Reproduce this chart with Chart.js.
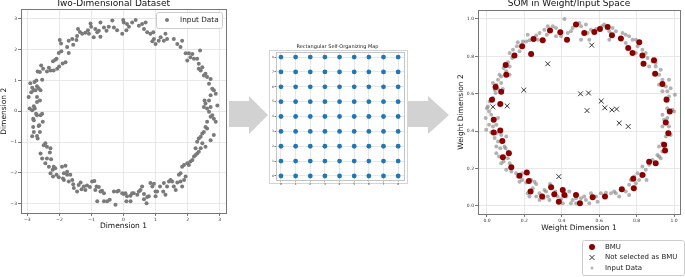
<!DOCTYPE html>
<html>
<head>
<meta charset="utf-8">
<script src="https://cdn.jsdelivr.net/npm/chart.js@4.4.1/dist/chart.umd.min.js"></script>
<style>
  body { margin: 0; width: 685px; height: 277px; overflow: hidden; background: #fff; position: relative; }
  canvas, svg, #mapBox { position: absolute; }
  #c1 { left: 0; top: -2px; }
  #c2 { left: 269px; top: 40px; }
  #c3 { left: 457px; top: -2px; }
  #mapBox { left: 269px; top: 50px; width: 137px; height: 132px; border: 1px solid #d4d4d4; background: #fff; }
</style>
</head>
<body>
<svg width="685" height="277">
  <polygon points="229,101 249,101 249,96 268,115 249,134 249,127 229,127" fill="#d2d2d2"/>
  <polygon points="408,101 428,101 428,96 449,115 428,134 428,127 408,127" fill="#d2d2d2"/>
</svg>
<div id="mapBox"></div>
<canvas id="c1" width="230" height="237"></canvas>
<canvas id="c2" width="139" height="146"></canvas>
<canvas id="c3" width="228" height="279"></canvas>
<script>
// left panel: raw 2D samples
const inputPoints = [
  [-1.03,2.85],[-1.01,2.74],[-1.11,2.63],[-1.19,2.55],[-1.29,2.51],[-1.42,2.67],[-1.36,2.57],[-1.45,2.44],[-1.47,2.31],[-1.60,2.34],
  [-1.57,2.16],[-1.71,2.29],[-1.76,2.08],[-1.99,2.31],[-1.95,2.20],[-2.02,1.89],[-1.94,1.95],[-1.71,1.89],[-1.81,1.59],[-1.90,1.55],
  [-2.09,1.70],[-2.20,1.62],[-2.13,1.67],[-2.01,1.45],[-2.07,1.38],[-2.18,1.32],[-2.28,1.32],[-2.39,1.29],[-2.33,1.41],[-2.57,1.48],
  [-2.51,1.38],[-2.61,1.27],[-2.68,1.29],[-2.54,1.02],[-2.72,1.00],[-2.78,0.95],[-2.85,0.76],[-2.65,0.75],[-2.70,0.81],[-2.59,0.68],
  [-2.80,0.68],[-2.88,0.62],[-2.96,0.46],[-2.91,0.91],[-2.75,0.68],[-2.70,0.46],[-2.70,0.30],[-2.61,0.35],[-2.80,0.16],[-2.85,0.03],
  [-2.93,0.09],[-2.77,0.09],[-2.82,-0.24],[-2.80,-0.29],[-2.73,-0.08],[-2.70,-0.13],[-2.54,-0.08],[-2.59,-0.13],[-2.52,-0.34],[-2.63,-0.45],
  [-2.82,-0.51],[-2.80,-0.67],[-2.65,-0.48],[-2.61,-0.67],[-2.85,-0.81],[-2.70,-0.80],[-2.68,-0.88],[-2.44,-1.04],[-2.49,-1.10],[-2.39,-1.15],
  [-2.28,-1.20],[-2.59,-1.37],[-2.30,-1.34],[-2.54,-1.53],[-2.39,-1.53],[-2.26,-1.56],[-2.44,-1.69],[-2.33,-1.80],[-2.13,-1.85],[-2.18,-1.80],
  [-2.09,-2.06],[-2.21,-1.90],[-2.28,-2.01],[-2.20,-2.12],[-2.02,-2.14],[-1.86,-2.01],[-1.92,-1.80],[-1.81,-1.77],[-1.76,-1.96],[-1.86,-2.23],
  [-1.89,-2.18],[-1.76,-2.06],[-1.66,-2.06],[-1.60,-2.23],[-1.71,-2.28],[-1.57,-2.37],[-1.55,-2.49],[-1.45,-2.60],[-1.40,-2.39],[-1.34,-2.31],
  [-1.31,-2.53],[-1.24,-2.44],[-1.14,-2.41],[-1.19,-2.55],[-1.05,-2.46],[-0.98,-2.28],[-0.91,-2.26],[-0.84,-2.44],[-0.88,-2.55],[-0.77,-2.46],
  [-0.72,-2.60],[-0.61,-2.66],[-0.67,-2.58],[-0.82,-2.92],[-0.61,-2.92],[-0.51,-2.92],[-0.43,-2.87],[-0.30,-2.60],[-0.25,-3.03],[-0.20,-2.60],
  [-0.15,-2.58],[-0.04,-2.66],[0.01,-2.68],[0.06,-2.66],[0.11,-2.76],[0.22,-2.74],[0.09,-2.92],[0.22,-2.92],[0.27,-2.66],[0.32,-2.66],
  [0.43,-2.71],[0.48,-2.60],[0.53,-2.55],[0.58,-2.44],[0.64,-2.68],[0.74,-2.78],[0.64,-2.85],[0.72,-2.98],[0.79,-2.76],[0.84,-2.33],
  [0.90,-2.44],[0.95,-2.35],[1.00,-2.60],[1.00,-2.76],[1.05,-2.60],[1.14,-2.44],[1.26,-2.33],[1.24,-2.60],[1.31,-2.71],[1.36,-2.44],
  [1.42,-2.28],[1.47,-2.23],[1.52,-2.28],[1.57,-2.44],[1.63,-2.55],[1.68,-2.31],[1.73,-2.06],[1.78,-2.28],[1.83,-2.44],[1.89,-2.23],
  [1.94,-2.12],[1.78,-2.01],[1.83,-1.80],[1.89,-1.74],[1.99,-1.69],[2.04,-1.74],[2.09,-1.63],[2.15,-1.58],[2.20,-1.47],[2.25,-1.42],
  [2.30,-1.37],[2.35,-1.31],[2.41,-1.20],[2.25,-1.20],[2.30,-0.99],[2.35,-0.88],[2.41,-0.83],[2.46,-0.72],[2.51,-0.67],[2.46,-1.04],
  [2.56,-1.15],[2.72,-0.94],[2.82,-0.77],[2.61,-0.56],[2.56,-0.51],[2.61,-0.34],[2.72,-0.18],[2.77,-0.13],[2.82,-0.24],[2.88,-0.34],
  [2.67,-0.02],[2.61,0.09],[2.56,0.25],[2.53,0.35],[2.51,0.14],[2.67,0.35],[2.72,0.14],[2.93,0.19],[2.88,0.57],[2.82,0.68],
  [2.72,0.52],[2.77,0.73],[2.67,0.89],[2.72,1.05],[2.61,1.11],[2.56,1.22],[2.51,1.16],[2.46,1.43],[2.41,1.32],[2.35,1.38],
  [2.35,1.54],[2.30,1.70],[2.20,1.70],[2.09,1.75],[1.99,1.65],[1.94,1.88],[2.04,1.88],[2.15,1.86],[2.39,1.97],[1.78,2.08],
  [1.83,2.29],[1.68,2.18],[1.57,2.34],[1.36,2.34],[1.31,2.51],[1.26,2.29],[1.16,2.40],[1.10,2.29],[1.00,2.18],[0.90,2.27],
  [0.95,2.34],[0.84,2.51],[0.93,2.56],[0.74,2.56],[0.64,2.67],[0.58,2.83],[0.69,2.88],[0.48,2.77],[0.38,2.96],[0.27,2.88],
  [0.17,2.74],[0.11,2.83],[0.01,2.88],[-0.01,2.96],[0.09,2.63],[-0.04,2.51],[-0.20,2.63],[-0.30,2.72],[-0.35,2.94],[-0.46,2.74],
  [-0.53,2.61],[-0.61,2.72],[-0.72,2.88],[-0.82,2.56],[-0.77,2.61],[-0.88,2.67],[-0.72,2.42],[-0.93,2.40],[-1.08,2.51]
];
const dimTicks = [-3, -2, -1, 0, 1, 2, 3];

// middle panel: 9x9 map lattice
const gridX = [0, 1, 2, 3, 4, 5, 6, 7, 8];
const gridY = [0, 1, 2, 3, 4, 5, 6, 7, 8];

// right panel: normalized inputs, BMUs and unused nodes
const somInput = [
  [0.414,1.000],[0.325,0.961],[0.352,0.961],[0.369,0.952],[0.307,0.943],[0.281,0.925],[0.218,0.916],[0.263,0.911],[0.245,0.893],[0.272,0.889],
  [0.227,0.886],[0.192,0.880],[0.165,0.875],[0.160,0.854],[0.139,0.836],[0.174,0.827],[0.121,0.818],[0.135,0.791],[0.112,0.768],[0.121,0.746],
  [0.089,0.738],[0.103,0.720],[0.121,0.702],[0.067,0.702],[0.059,0.675],[0.076,0.657],[0.050,0.648],[0.041,0.621],[0.059,0.625],[0.085,0.625],
  [0.046,0.604],[0.032,0.577],[0.014,0.559],[0.005,0.532],[0.011,0.505],[-0.007,0.470],[0.023,0.488],[0.011,0.434],[0.032,0.425],[0.050,0.434],
  [0.059,0.470],[0.023,0.393],[0.050,0.389],[0.076,0.380],[0.103,0.371],[0.041,0.363],[0.059,0.345],[0.094,0.318],[0.099,0.309],[0.071,0.309],
  [0.112,0.291],[0.050,0.282],[0.064,0.264],[0.089,0.238],[0.121,0.229],[0.112,0.255],[0.130,0.184],[0.156,0.175],[0.165,0.157],[0.188,0.175],
  [0.188,0.139],[0.210,0.125],[0.236,0.139],[0.254,0.130],[0.263,0.118],[0.245,0.095],[0.218,0.068],[0.227,0.050],[0.281,0.068],[0.307,0.086],
  [0.316,0.077],[0.325,0.050],[0.281,0.032],[0.302,0.041],[0.337,0.118],[0.366,0.077],[0.378,0.050],[0.396,0.036],[0.423,0.050],[0.440,0.077],
  [0.458,0.032],[0.476,0.014],[0.449,0.014],[0.503,0.041],[0.520,0.050],[0.529,0.032],[0.556,0.068],[0.583,0.050],[0.591,0.023],[0.609,0.068],
  [0.636,0.071],[0.663,0.068],[0.680,0.077],[0.707,0.050],[0.742,0.077],[0.760,0.113],[0.769,0.139],[0.787,0.157],[0.805,0.175],[0.813,0.139],
  [0.840,0.166],[0.853,0.139],[0.849,0.193],[0.867,0.220],[0.885,0.246],[0.911,0.273],[0.929,0.255],[0.938,0.291],[0.920,0.318],[0.938,0.336],
  [0.956,0.371],[0.964,0.393],[0.982,0.380],[0.938,0.425],[0.947,0.461],[0.964,0.470],[0.938,0.488],[0.964,0.523],[0.991,0.514],[1.000,0.505],
  [0.956,0.577],[0.973,0.586],[1.005,0.595],[0.938,0.613],[0.956,0.639],[0.973,0.675],[0.938,0.675],[0.920,0.702],[0.929,0.729],[0.902,0.746],
  [0.902,0.764],[0.885,0.773],[0.858,0.791],[0.849,0.818],[0.831,0.836],[0.805,0.854],[0.796,0.889],[0.778,0.889],[0.760,0.907],[0.742,0.916],
  [0.725,0.925],[0.689,0.934],[0.671,0.952],[0.654,0.934],[0.627,0.970],[0.615,0.961],[0.583,0.946],[0.556,0.943],[0.529,0.970],[0.503,0.961],
  [0.494,0.979],[0.458,0.952],[0.449,0.934],[0.432,0.925],[0.396,0.907],[0.369,0.907],[0.320,0.916],[0.538,0.925],[0.547,0.889],[0.503,0.889],
  [0.654,0.889],[0.742,0.871],[0.796,0.818],[0.867,0.746],[0.920,0.648],[0.964,0.613],[0.982,0.630],[0.973,0.425],[0.920,0.264],[0.831,0.211],
  [0.796,0.121],[0.760,0.059],[0.689,0.068],[0.547,0.014],[0.476,0.041],[0.405,0.014],[0.334,0.032],[0.263,0.050],[0.174,0.130],[0.103,0.193],
  [0.076,0.229],[0.050,0.318],[-0.004,0.407],[0.000,0.523],[0.032,0.657],[0.076,0.693],[0.139,0.800],[0.210,0.880]
];
const bmuPoints = [
  [0.476,0.970],[0.520,0.925],[0.574,0.930],[0.604,0.946],[0.645,0.957],[0.668,0.913],[0.716,0.895],[0.755,0.845],[0.814,0.875],[0.778,0.818],
  [0.831,0.804],[0.837,0.761],[0.893,0.779],[0.899,0.707],[0.938,0.652],[0.960,0.568],[0.977,0.505],[0.956,0.446],[0.970,0.389],[0.947,0.327],
  [0.952,0.296],[0.902,0.229],[0.867,0.237],[0.831,0.166],[0.782,0.145],[0.785,0.095],[0.721,0.089],[0.631,0.050],[0.565,0.046],[0.497,0.014],
  [0.476,0.059],[0.414,0.059],[0.405,0.086],[0.384,0.023],[0.360,0.063],[0.343,0.100],[0.295,0.050],[0.233,0.077],[0.224,0.134],[0.213,0.179],
  [0.174,0.161],[0.130,0.207],[0.117,0.282],[0.085,0.261],[0.082,0.348],[0.071,0.404],[0.036,0.393],[0.036,0.461],[0.071,0.545],[0.027,0.568],
  [0.076,0.611],[0.046,0.636],[0.103,0.702],[0.100,0.754],[0.147,0.804],[0.188,0.854],[0.236,0.813],[0.249,0.893],[0.298,0.886],[0.337,0.938],
  [0.392,0.929],[0.428,0.889]
];
const unusedNodes = [
  [0.560,0.860],[0.325,0.760],[0.197,0.620],[0.032,0.530],[0.108,0.535],[0.500,0.600],[0.543,0.604],[0.535,0.510],
  [0.611,0.561],[0.630,0.525],[0.668,0.514],[0.693,0.518],[0.707,0.443],[0.755,0.425],[0.384,0.157]
];
const weightTicks = [0, 0.2, 0.4, 0.6, 0.8, 1.0];

const toXY = arr => arr.map(([x, y]) => ({ x, y }));

Chart.defaults.font.family = '"DejaVu Sans", sans-serif';
Chart.defaults.color = '#222';

// box around the plot area, like matplotlib spines
const framePlugin = {
  id: 'frame',
  beforeDatasetsDraw(chart, args, opts) {
    const { ctx, chartArea: a } = chart;
    ctx.save();
    ctx.strokeStyle = opts.color;
    ctx.lineWidth = 1;
    const l = Math.round(a.left) + 0.5, t = Math.round(a.top) + 0.5;
    ctx.strokeRect(l, t, Math.round(a.right) - Math.round(a.left), Math.round(a.bottom) - Math.round(a.top));
    ctx.restore();
  }
};

// vertical legend drawn in a rounded box
const boxLegend = {
  id: 'boxLegend',
  afterDraw(chart, args, o) {
    const ctx = chart.ctx;
    ctx.save();
    ctx.fillStyle = 'rgba(255,255,255,0.85)';
    ctx.strokeStyle = '#cccccc';
    ctx.lineWidth = 1;
    ctx.beginPath();
    if (ctx.roundRect) ctx.roundRect(o.x + 0.5, o.y + 0.5, o.w, o.h, 2);
    else ctx.rect(o.x + 0.5, o.y + 0.5, o.w, o.h);
    ctx.fill();
    ctx.stroke();
    ctx.font = o.fontSize + 'px "DejaVu Sans"';
    ctx.textBaseline = 'middle';
    chart.data.datasets.forEach((ds, i) => {
      const cy = o.y + o.pad + i * o.row + o.row / 2;
      const mx = o.x + o.markX;
      const r = ds.legendRadius || ds.pointRadius;
      if (ds.pointStyle === 'crossRot') {
        const d = r * 0.72;
        ctx.strokeStyle = ds.borderColor;
        ctx.lineWidth = ds.borderWidth;
        ctx.beginPath();
        ctx.moveTo(mx - d, cy - d); ctx.lineTo(mx + d, cy + d);
        ctx.moveTo(mx - d, cy + d); ctx.lineTo(mx + d, cy - d);
        ctx.stroke();
      } else {
        ctx.fillStyle = ds.backgroundColor;
        ctx.beginPath();
        ctx.arc(mx, cy, r, 0, Math.PI * 2);
        ctx.fill();
      }
      ctx.fillStyle = '#222';
      ctx.fillText(ds.label, o.x + o.textX, cy);
    });
    ctx.restore();
  }
};

function axis(min, max, ticks, fmt, size, tickFont, title) {
  return {
    type: 'linear',
    min: min,
    max: max,
    afterBuildTicks: s => { s.ticks = ticks.map(v => ({ value: v })); },
    afterFit: s => { if (s.isHorizontal()) s.height = size; else s.width = size; },
    ticks: { callback: fmt, font: { size: tickFont.size }, padding: tickFont.pad, autoSkip: false, maxRotation: 0, color: '#333' },
    grid: { color: '#e2e2e2', lineWidth: 0.8, tickColor: '#555', tickLength: tickFont.len },
    border: { display: false },
    title: title
  };
}

const minusFmt = v => (v < 0 ? '\u2212' + Math.abs(v) : String(v));
const oneDec = v => v.toFixed(1);
const intFmt = v => String(v);

const baseOpts = {
  responsive: false,
  animation: false,
  events: []
};

// Two-Dimensional Dataset
new Chart(document.getElementById('c1'), {
  type: 'scatter',
  data: {
    datasets: [{
      label: 'Input Data',
      data: toXY(inputPoints),
      pointRadius: 2,
      backgroundColor: '#7a7a7a',
      borderWidth: 0
    }]
  },
  options: Object.assign({}, baseOpts, {
    layout: { padding: { left: 0, right: 4, top: 0, bottom: 0 } },
    plugins: {
      legend: { display: false },
      tooltip: { enabled: false },
      title: { display: true, text: 'Two-Dimensional Dataset', color: '#111', font: { size: 9, weight: 'normal' }, padding: { top: 0, bottom: 0.7 } },
      frame: { color: '#777' },
      boxLegend: { x: 156, y: 14, w: 66, h: 16, pad: 0, row: 16, markX: 11, textX: 24, fontSize: 7.3 }
    },
    scales: {
      x: axis(-3.2, 3.2, dimTicks, minusFmt, 22, { size: 4.5, pad: 1, len: 3 },
        { display: true, text: 'Dimension 1', color: '#111', font: { size: 7.5 }, padding: { top: 0, bottom: 4.5 } }),
      y: axis(-3.3, 3.3, dimTicks, minusFmt, 21, { size: 4.5, pad: 1, len: 3 },
        { display: true, text: 'Dimension 2', color: '#111', font: { size: 7.5 }, padding: { top: 0, bottom: 0 } })
    }
  }),
  plugins: [framePlugin, boxLegend]
});

// Rectangular Self-Organizing Map
new Chart(document.getElementById('c2'), {
  type: 'scatter',
  data: {
    datasets: [{
      label: 'Nodes',
      data: gridY.flatMap(y => gridX.map(x => ({ x, y }))),
      pointRadius: 2.4,
      backgroundColor: '#1f77b4',
      borderWidth: 0
    }]
  },
  options: Object.assign({}, baseOpts, {
    layout: { padding: { left: 0, right: 2, top: 0, bottom: 0 } },
    plugins: {
      legend: { display: false },
      tooltip: { enabled: false },
      title: { display: true, text: 'Rectangular Self-Organizing Map', color: '#222', font: { size: 5, weight: 'normal' }, padding: { top: 3.5, bottom: 2.5 } },
      frame: { color: '#c4c4c4' }
    },
    scales: {
      x: axis(-0.34, 8.4, gridX, intFmt, 6, { size: 3, pad: 0.5, len: 1.5 }, { display: false }),
      y: axis(-0.27, 8.34, gridY, intFmt, 7, { size: 3, pad: 0.5, len: 1.5 }, { display: false })
    }
  }),
  plugins: [framePlugin]
});

// SOM in Weight/Input Space
new Chart(document.getElementById('c3'), {
  type: 'scatter',
  data: {
    datasets: [
      {
        label: 'BMU',
        data: toXY(bmuPoints),
        pointRadius: 3,
        backgroundColor: '#8b0000',
        borderWidth: 0,
        order: 1
      },
      {
        label: 'Not selected as BMU',
        data: toXY(unusedNodes),
        pointStyle: 'crossRot',
        pointRadius: 3.4,
        borderColor: '#333333',
        borderWidth: 1,
        backgroundColor: '#333333',
        order: 0
      },
      {
        label: 'Input Data',
        data: toXY(somInput),
        pointRadius: 2,
        legendRadius: 1.5,
        backgroundColor: 'rgba(128,128,128,0.6)',
        borderWidth: 0,
        order: 2
      }
    ]
  },
  options: Object.assign({}, baseOpts, {
    layout: { padding: { left: 0, right: 4, top: 0, bottom: 41 } },
    plugins: {
      legend: { display: false },
      tooltip: { enabled: false },
      title: { display: true, text: 'SOM in Weight/Input Space', color: '#111', font: { size: 9, weight: 'normal' }, padding: { top: 0, bottom: 1.2 } },
      frame: { color: '#777' },
      boxLegend: { x: 125, y: 242, w: 102, h: 35, pad: 1.75, row: 10.5, markX: 10, textX: 23, fontSize: 7 }
    },
    scales: {
      x: axis(-0.048, 1.032, weightTicks, oneDec, 22, { size: 4.5, pad: 1, len: 3 },
        { display: true, text: 'Weight Dimension 1', color: '#111', font: { size: 7.5 }, padding: { top: 0, bottom: 3.5 } }),
      y: axis(-0.043, 1.048, weightTicks, oneDec, 21, { size: 4.5, pad: 1, len: 3 },
        { display: true, text: 'Weight Dimension 2', color: '#111', font: { size: 7.5 }, padding: { top: 0, bottom: 0 } })
    }
  }),
  plugins: [framePlugin, boxLegend]
});
</script>
</body>
</html>
